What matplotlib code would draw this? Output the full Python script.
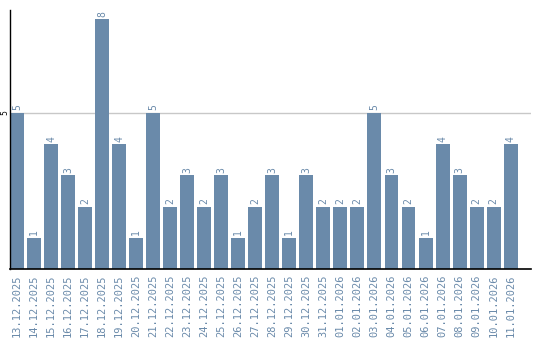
import matplotlib
matplotlib.use("Agg")
from matplotlib import pyplot as plt

dates = ["13.12.2025", "14.12.2025", "15.12.2025", "16.12.2025", "17.12.2025",
         "18.12.2025", "19.12.2025", "20.12.2025", "21.12.2025", "22.12.2025",
         "23.12.2025", "24.12.2025", "25.12.2025", "26.12.2025", "27.12.2025",
         "28.12.2025", "29.12.2025", "30.12.2025", "31.12.2025", "01.01.2026",
         "02.01.2026", "03.01.2026", "04.01.2026", "05.01.2026", "06.01.2026",
         "07.01.2026", "08.01.2026", "09.01.2026", "10.01.2026", "11.01.2026"]
counts = [5, 1, 4, 3, 2, 8, 4, 1, 5, 2, 3, 2, 3, 1, 2, 3, 1, 3, 2, 2,
          2, 5, 3, 2, 1, 4, 3, 2, 2, 4]

bar_color = "#6a8aaa"
text_color = "#6a8aaa"

fig = plt.figure(figsize=(5.4, 3.4), dpi=100)
ax = fig.add_axes([0.0185, 0.209, 0.965, 0.762])

x = range(len(counts))
ax.bar(x, counts, width=0.82, color=bar_color, zorder=2)
for i, v in enumerate(counts):
    ax.text(i, v + 0.08, str(v), rotation=90, ha="center", va="bottom",
            color=text_color, fontsize=7, family="DejaVu Sans Mono")

ax.set_xlim(-0.41, 30.2)
ax.set_ylim(0, 8.3)
ax.set_yticks([5])
ax.set_yticklabels(["5"], rotation=90, va="center", fontsize=5.5)
ax.yaxis.grid(True, color="#c8c8c8", linewidth=1, zorder=0)
ax.tick_params(axis="y", length=0, pad=0.5)

ax.set_xticks(list(x))
ax.set_xticklabels(dates, rotation=90, color=text_color, fontsize=7.5,
                   family="DejaVu Sans Mono")
ax.tick_params(axis="x", length=0, pad=4)

ax.spines["top"].set_visible(False)
ax.spines["right"].set_visible(False)
ax.spines["left"].set_linewidth(1)
ax.spines["bottom"].set_linewidth(1.2)

fig.savefig("out.png", dpi=100)
